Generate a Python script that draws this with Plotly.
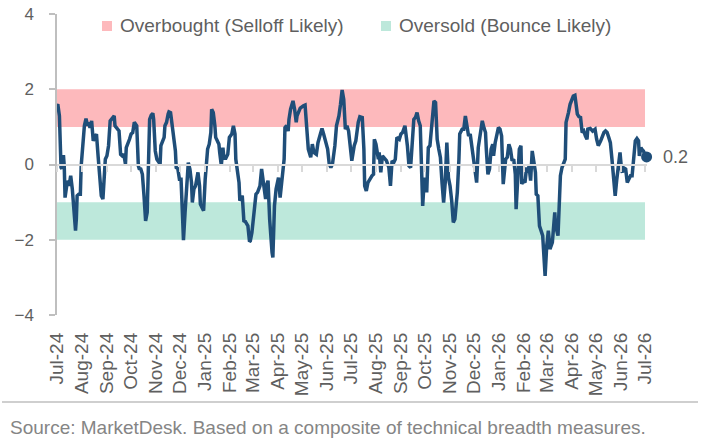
import plotly.graph_objects as go
import pandas as pd

# ---------------- data ----------------
start_date = "2024-07-01"
day_offsets = [
    0, 1, 3, 4, 5, 6, 8, 9, 10, 12, 14, 15, 17, 19, 21, 23, 24, 25, 27, 29, 30, 32, 34, 36, 38, 39, 41, 43, 44, 45,
    48, 49, 51, 53, 55, 57, 58, 60, 62, 64, 66, 68, 71, 72, 75, 77, 79, 81, 83, 85, 86, 88, 90, 92, 94, 96, 97, 99,
    101, 102, 104, 106, 108, 109, 110, 112, 114, 115, 117, 119, 120, 122, 124, 126, 128, 129, 131, 133, 134, 136,
    138, 139, 141, 143, 145, 147,
    148, 150, 152, 154, 156, 157, 159, 161, 163, 165, 167, 168, 170, 172, 173, 175, 177, 178, 180, 182, 184, 186,
    187, 189, 191, 192, 194, 196, 197, 199, 201, 202, 204, 206, 207, 209, 211, 212, 214, 216, 217, 219, 221, 222,
    224, 226, 227, 229, 230, 232, 234, 235, 237, 239, 240, 242, 244, 245, 247, 249, 250, 252, 254, 255, 257, 259,
    260, 262, 264, 265, 267, 268, 269, 270, 272, 274, 275, 277, 279, 280, 282, 283, 285, 287, 288, 290, 292, 293,
    295, 297, 298, 300,
    302, 306, 308, 312, 315, 317, 319, 322, 324, 327, 329, 331, 334, 336, 338, 340, 342, 345, 347, 350, 352, 354,
    356, 358, 360, 362, 364, 366, 369, 371, 374, 376, 379, 381, 382, 384, 386, 388, 391, 393, 394, 396, 399, 400,
    402, 404, 407, 409, 412, 414, 416, 418, 420, 422, 425, 427, 429, 432, 435, 437, 439, 441, 443, 445, 447, 449,
    451, 453, 454, 456, 457, 459, 461, 463, 465, 467, 468, 470, 472, 474, 476, 478, 480, 482, 484, 486, 488, 490,
    492, 494, 497, 499, 500, 503, 505, 507, 509, 511, 513, 515, 517, 519, 521, 523, 526, 528, 530, 532, 533, 535,
    537, 539, 541, 542, 544, 546, 548, 550, 552, 554, 557, 559, 561, 563, 565, 567, 569, 570, 572, 574, 576, 577,
    579, 581, 583, 585, 586, 588, 590, 592, 594, 595, 597,
    599, 600, 603, 604, 606, 608, 610, 611, 612, 615, 617, 618, 619, 622, 624, 625, 627, 629, 631, 632, 634, 635,
    637, 639, 641, 643, 646, 648, 650, 652, 654, 656, 658, 659, 662, 665, 668, 670, 672, 675, 677, 679, 681, 683,
    685, 687, 689, 691, 693, 695, 697, 699, 701, 702, 703, 706, 708, 710, 712, 714, 716, 718, 720, 722, 723, 725,
    726, 728, 730, 732,
]
breadth_values = [
    1.56, 1.60, 1.29, 0.50, -0.08, -0.11, 0.25, -0.04, -0.88, -0.57, -0.43, -0.57, -0.30, -0.65, -1.27, -1.76,
    -1.45, -0.83, -0.79, -0.79, -0.04, 0.67, 1.03, 1.22, 1.03, 1.12, 0.98, 1.16, 0.94, 0.63,
    0.76, 0.81, 0.23, -0.39, -0.83, -0.92, -0.39, 0.14, 0.23, 0.50, 1.16, 1.22, 1.29, 1.03, 0.94, 0.89, 0.27, 0.23,
    0.27, 0.01, 0.45, 0.54, 0.67, 0.81, 0.85, 1.12, 1.10, 1.03,
    -0.04, -0.11, -0.12, -0.26, -0.83, -1.50, -1.50, -1.27, -0.04, 1.20, 1.31, 1.36, 1.20, 0.36, 0.14, 0.05, 0.01,
    0.50, 0.63, 0.72, 1.03, 1.12,
    1.34, 1.40, 1.38, 1.03, 0.72, 0.36,
    -0.08, -0.11, -0.39, -0.39, -1.45, -2.01, -1.27, -0.39, 0.05, -0.12, -0.48, -1.01, -0.65, -0.57, -0.39, -0.21,
    -0.57, -1.05, -1.14, -1.23, -0.39, 0.23,
    0.41, 0.54, 0.85, 1.47, 1.38, 1.03, 0.72, 0.63, 0.54, 0.32, -0.02, 0.45, 0.23, 0.14, 0.23, 0.27, 0.72, 0.78,
    0.81, 1.03, 0.81, 0.14,
    -0.21, -0.48, -0.96, -0.88, -0.83, -1.50, -1.52, -1.56, -1.63, -2.05, -2.03, -1.81, -1.45, -1.10, -0.79, -0.74,
    -0.65, -0.57, -0.12, -0.26, -0.65, -0.92,
    -0.57, -0.43, -1.45, -1.89, -2.34, -2.47, -1.54, -1.10, -0.65, -0.37, -0.35, -0.88, -0.43, -0.43, 0.14, 0.98,
    1.03, 0.89, 1.20, 1.47, 1.66, 1.69,
    1.47, 1.12, 1.29, 1.38,
    1.50, 1.56, 1.58, 0.41, 0.19, 0.54, 0.32, 0.27, 0.58, 0.81, 0.96, 0.81, 0.54, 0.41, 0.01, -0.08, 0.01, 0.50,
    1.03, 1.29, 1.60, 1.98,
    1.73, 0.94, 1.03, 0.89, 0.50, 0.10, 0.50, 0.63, 1.12, 1.27, 1.25, 0.41, -0.57, -0.70, -0.48, -0.39, -0.30,
    -0.26, 0.67, 0.54, 0.14, 0.32,
    -0.21, 0.23, 0.14, 0.10, -0.08, -0.57, 0.10, 0.05, 0.14, 0.72, 0.67, 0.81, 0.85, 1.03, 0.50, -0.04, -0.08,
    0.58, 1.20, 1.25, 1.38, 1.16,
    1.03, -0.39, -1.10, -0.39, -0.39, -0.74, 0.45, 0.50, 1.03, 1.42, 1.69, 1.65, 0.67, 0.41, 0.19, -0.48, -1.01,
    -0.48, 0.58, -0.35, -0.57, -0.96,
    -1.54, -1.45, -0.74, 0.14, 0.81, 0.94, 0.94, 1.29, 1.07, 0.76, 0.81, 0.50, 0.27, -0.04, -0.48, 0.45, 0.94,
    1.16, 0.98, 0.85, 0.41, -0.26,
    -0.12, 0.41, 0.54, 0.23, 0.58, 0.81, 0.98, 0.94, 0.76, -0.52, 0.14, 0.19, 0.54, 0.41, 0.10, 0.14, -0.26,
    -1.19, -0.21, 0.41, 0.50, -0.52,
    -0.43, -0.48, -0.08, -0.21, -0.04, -0.43, 0.36, 0.10, -0.21, -0.79, -0.83,
    -1.63, -1.72, -1.89, -2.25, -2.96, -2.16, -1.76, -1.98, -2.25, -2.07, -1.45, -1.27, -1.63, -1.89, -0.83,
    -0.30, -0.08, 0.05, 0.14, 1.12, 1.25, 1.38,
    1.60, 1.73, 1.82, 1.84, 1.34, 1.27, 1.25, 0.85, 0.89, 0.76, 0.67, 0.94, 0.96, 0.89, 0.94, 0.67, 0.50, 0.63,
    0.76, 0.85, 0.89, 0.85,
    0.72, 0.58, 0.14, -0.39, -0.83, -0.39, -0.04, 0.32, -0.17, -0.21, -0.08, -0.12, -0.48, -0.39, -0.30, -0.30,
    0.23, 0.63, 0.69, 0.63, 0.23, 0.45,
    0.41, 0.36, 0.27, 0.20,
]
overbought_band = [1, 2]
oversold_band = [-2, -1]
band_end_date = "2026-07-01"
y_tick_values = [-4, -2, 0, 2, 4]
legend_labels = ["Overbought (Selloff Likely)", "Oversold (Bounce Likely)"]
source_text = "Source: MarketDesk. Based on a composite of technical breadth measures."

# ---------------- styles / layout ----------------
LINE_COLOR = "#1F4E79"
PINK = "#FDB9BC"
GREEN = "#BDE8DB"
TEXT_COLOR = "#5F5F5F"
FONT = "Liberation Sans, Arial, sans-serif"

W, H = 705, 444
L, R, T, B = 57, 58, 14, 129
plot_w = W - L - R
plot_h = H - T - B


def px_x(px):
    return (px - L) / plot_w


def px_y(py):
    return (H - B - py) / plot_h


dates = pd.Timestamp(start_date) + pd.to_timedelta(day_offsets, unit="D")
x_range = [pd.Timestamp(start_date), pd.Timestamp(start_date) + pd.Timedelta(days=732.5)]

fig = go.Figure()

fig.add_trace(go.Scatter(
    x=dates, y=breadth_values, mode="lines",
    line=dict(color=LINE_COLOR, width=3.5),
    showlegend=False, hoverinfo="x+y",
))
fig.add_trace(go.Scatter(
    x=[dates[-1]], y=[breadth_values[-1]], mode="markers",
    marker=dict(color=LINE_COLOR, size=11),
    showlegend=False, cliponaxis=False,
))
# trace anchoring the zero-line axis
fig.add_trace(go.Scatter(
    x=[dates[0]], y=[None], xaxis="x2", mode="lines",
    showlegend=False, hoverinfo="skip",
))

shapes = []
for band, color in [(overbought_band, PINK), (oversold_band, GREEN)]:
    shapes.append(dict(
        type="rect", xref="x", yref="y", x0=start_date, x1=band_end_date,
        y0=band[0], y1=band[1], fillcolor=color, line=dict(width=0), layer="below",
    ))

# legend squares + labels
legend_pos = [(102, 118, PINK), (381, 397, GREEN)]
annotations = []
for (sq_x, txt_x, color), label in zip(legend_pos, legend_labels):
    shapes.append(dict(
        type="rect", xref="paper", yref="paper",
        x0=px_x(sq_x), x1=px_x(sq_x + 10), y0=px_y(31), y1=px_y(21),
        fillcolor=color, line=dict(width=0),
    ))
    annotations.append(dict(
        xref="paper", yref="paper", x=px_x(txt_x), y=px_y(25),
        xanchor="left", yanchor="middle", text=label, showarrow=False,
        font=dict(size=19, color=TEXT_COLOR, family=FONT),
    ))

# separator line
shapes.append(dict(
    type="line", xref="paper", yref="paper",
    x0=px_x(2), x1=px_x(698), y0=px_y(402), y1=px_y(402),
    line=dict(color="#BFBFBF", width=1.5),
))

annotations.append(dict(
    xref="paper", yref="paper", x=px_x(8), y=px_y(427),
    xanchor="left", yanchor="middle", text=source_text, showarrow=False,
    font=dict(size=19, color="#858585", family=FONT),
))
annotations.append(dict(
    xref="x", yref="y", x=dates[-1], y=breadth_values[-1],
    xanchor="left", yanchor="middle", xshift=14,
    text=f"{breadth_values[-1]:.1f}", showarrow=False,
    font=dict(size=18, color=TEXT_COLOR, family=FONT),
))

fig.update_layout(
    width=W, height=H,
    margin=dict(l=L, r=R, t=T, b=B),
    paper_bgcolor="white", plot_bgcolor="white",
    font=dict(family=FONT, color=TEXT_COLOR),
    showlegend=False,
    shapes=shapes,
    annotations=annotations,
    xaxis=dict(
        type="date", range=x_range, autorange=False,
        tickmode="linear", tick0=start_date, dtick="M1", tickformat="%b-%y",
        tickangle=-90, ticks="", showline=False, showgrid=False, zeroline=False,
        tickfont=dict(size=19, color=TEXT_COLOR, family=FONT),
        ticklabelstandoff=13, automargin=False,
    ),
    xaxis2=dict(
        type="date", range=x_range, autorange=False, overlaying="x",
        anchor="free", position=0.5,
        tickmode="linear", tick0=start_date, dtick="M1",
        showticklabels=False, ticks="outside", ticklen=6, tickwidth=1.5,
        tickcolor="#D9D9D9", showline=True, linecolor="#D9D9D9", linewidth=2,
        showgrid=False, zeroline=False, automargin=False,
    ),
    yaxis=dict(
        range=[-4, 4], autorange=False, tickmode="array", tickvals=y_tick_values,
        showline=True, linecolor="#BFBFBF", linewidth=1.5,
        ticks="outside", ticklen=6, tickwidth=1.5, tickcolor="#BFBFBF",
        showgrid=False, zeroline=False,
        tickfont=dict(size=17, color=TEXT_COLOR, family=FONT),
        ticklabelstandoff=12, automargin=False,
    ),
)

fig.write_html("out.html")
